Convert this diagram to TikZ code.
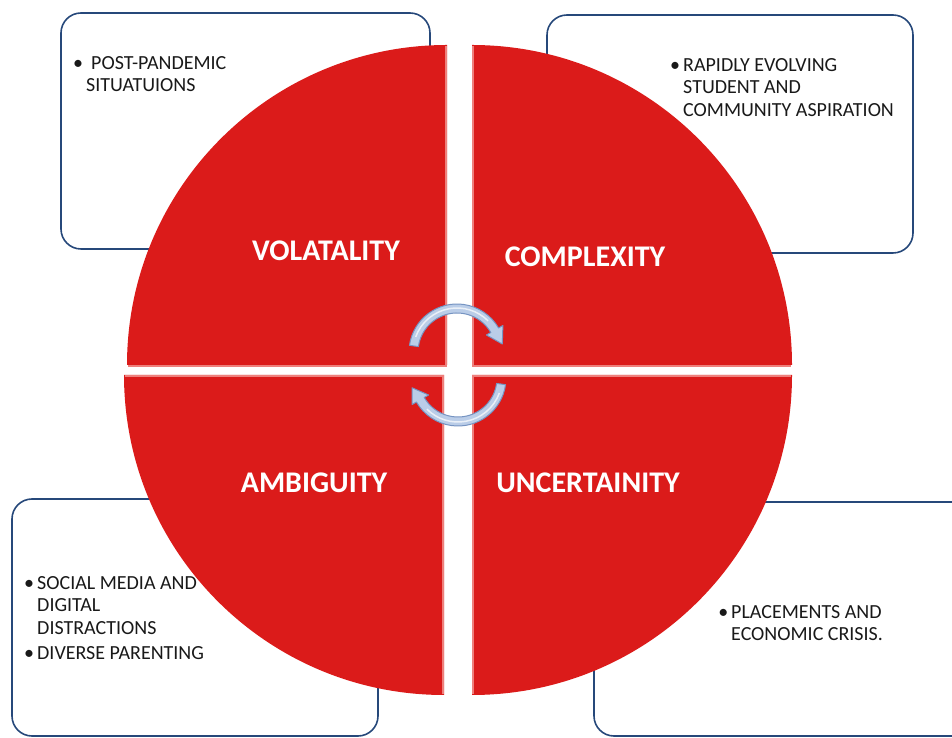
\documentclass[tikz,border=0pt]{standalone}
\usepackage{fontspec}
\setmainfont{Carlito}

\definecolor{quadred}{RGB}{219,27,26}
\definecolor{quadedge}{RGB}{238,128,124}
\definecolor{boxblue}{RGB}{38,72,122}
\definecolor{arrowfill}{RGB}{186,205,232}
\definecolor{arrowedge}{RGB}{118,148,194}
\newcommand{\itemdot}{\llap{\textbullet\hspace{3pt}}}

\begin{document}
\begin{tikzpicture}[x=1pt, y=1pt,
  infobox/.style={draw=boxblue, line width=1.6pt, rounded corners=20pt},
  quadrant/.style={fill=quadred},
  bevel/.style={draw=quadedge, line width=1.5pt},
  title/.style={text=white, inner sep=0pt, font=\bfseries\fontsize{30}{32}\selectfont},
  bullets/.style={anchor=north west, align=left, inner sep=0pt, text=black!90, font=\fontsize{20}{22.8}\selectfont},
  cyclearrow/.style={fill=arrowfill, draw=arrowedge, line width=1pt, line join=round}]

\useasboundingbox (0,0) rectangle (952,738);
\clip (0,0) rectangle (952,738);

% boxes behind the circle
\draw[infobox] (61,489) rectangle (430,725);
\draw[infobox] (547,485) rectangle (913,723);
\draw[infobox] (12,2) rectangle (378,239);
\draw[infobox] (594,2) rectangle (975,236);

% four quadrants
\fill[quadrant] (447,373) -- (127,373) arc (180:90:320pt) -- cycle;
\fill[quadrant] (472,373) -- (472,693) arc (90:0:320pt) -- cycle;
\fill[quadrant] (444,363) -- (124,363) arc (180:270:320pt) -- cycle;
\fill[quadrant] (472,363) -- (792,363) arc (0:-90:320pt) -- cycle;

\draw[bevel] (128,372) -- (446,372) -- (446,692);
\draw[bevel] (473,692) -- (473,372) -- (791,372);
\draw[bevel] (125,362) -- (443,362) -- (443,44);
\draw[bevel] (473,44) -- (473,362) -- (791,362);

% cycle arrows
\begin{scope}[shift={(457,386)}]
\filldraw[cyclearrow] (172:48pt) arc (172:30:48pt) -- (30:53pt) -- (10:46pt) -- (30:34pt) -- (30:39pt) arc (30:172:39pt) -- cycle;
\draw[white, line width=1.5pt, opacity=0.7] (160:44pt) arc (160:45:44pt);
\end{scope}
\begin{scope}[shift={(458,360)}]
\filldraw[cyclearrow] (-8:48pt) arc (-8:-150:48pt) -- (-150:53pt) -- (-168:47pt) -- (-150:34pt) -- (-150:39pt) arc (-150:-8:39pt) -- cycle;
\draw[white, line width=1.5pt, opacity=0.7] (-20:44pt) arc (-20:-135:44pt);
\end{scope}

\node[title] (volatility) at (326,487) {VOLATALITY};
\node[title] (complexity) at (585,481) {COMPLEXITY};
\node[title] (ambiguity) at (314,255) {AMBIGUITY};
\node[title] (uncertainty) at (588,255) {UNCERTAINITY};

\node[bullets] (postpandemic) at (86,682) {\itemdot\hspace{5pt}POST-PANDEMIC\\SITUATUIONS};
\node[bullets] (aspiration) at (683,680) {\itemdot RAPIDLY EVOLVING\\STUDENT AND\\COMMUNITY ASPIRATION};
\node[bullets] (socialmedia) at (37,162) {\itemdot SOCIAL MEDIA AND\\DIGITAL\\DISTRACTIONS\\[2pt]\itemdot DIVERSE PARENTING};
\node[bullets] (placements) at (731,133) {\itemdot PLACEMENTS AND\\ECONOMIC CRISIS.};

\end{tikzpicture}
\end{document}
